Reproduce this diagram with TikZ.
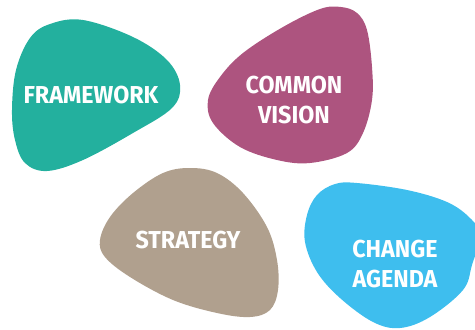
\documentclass[tikz,border=0pt]{standalone}
\usepackage{fontspec}
\setmainfont{Fira Sans}[FakeStretch=0.95]
\definecolor{tealblob}{RGB}{35,176,158}
\definecolor{plumblob}{RGB}{173,84,127}
\definecolor{sandblob}{RGB}{176,160,142}
\definecolor{skyblob}{RGB}{62,190,238}
\begin{document}
\begin{tikzpicture}[x=1pt,y=-1pt,
  label/.style={text=white, font=\bfseries\fontsize{24.5}{30}\selectfont, align=center, inner sep=0pt}]
\useasboundingbox (0,0) rectangle (475,330);
\clip (0,0) rectangle (475,330);
% teal blob
\fill[tealblob] plot[smooth cycle, tension=0.6] coordinates {
  (83,20) (133,37) (167,60) (180,85) (172,108) (133,133) (83,160)
  (47,171) (25,163) (15,140) (12,110) (16,70) (30,38) (50,24)};
% plum blob
\fill[plumblob] plot[smooth cycle, tension=0.6] coordinates {
  (341,7) (357,13) (367,30) (372,67) (372,100) (363,133) (347,153)
  (310,163) (277,160) (240,147) (213,123) (208,100) (220,77) (243,53)
  (283,27) (320,9)};
% sand blob
\fill[sandblob] plot[smooth cycle, tension=0.6] coordinates {
  (190,168) (217,173) (243,193) (267,227) (277,260) (278,290) (270,310)
  (250,317) (217,313) (173,300) (130,277) (105,257) (100,240) (110,217)
  (133,193) (163,173)};
% sky blob
\fill[skyblob] plot[smooth cycle, tension=0.6] coordinates {
  (317,195) (335,184) (357,183) (407,190) (447,202) (470,218) (480,235)
  (472,265) (463,290) (430,317) (400,328) (373,322) (340,298) (317,272)
  (305,242) (307,215)};
\node[label] (framework) at (91,95) {FRAMEWORK};
\node[label] (vision) at (294,100) {COMMON\\VISION};
\node[label] (strategy) at (188,240) {STRATEGY};
\node[label] (agenda) at (395,264) {CHANGE\\AGENDA};
\end{tikzpicture}
\end{document}
